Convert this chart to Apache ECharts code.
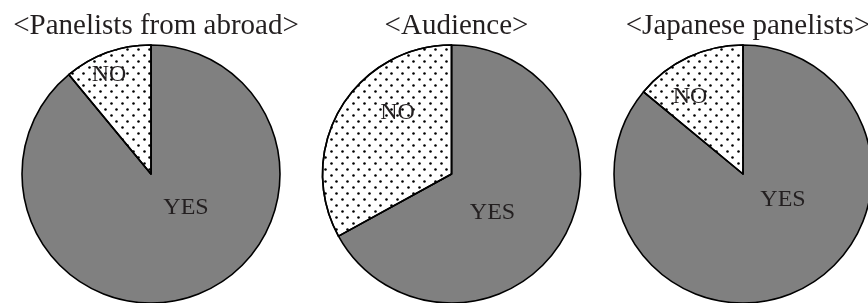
<!DOCTYPE html>
<html>
<head>
<meta charset="utf-8">
<title>Pie charts</title>
<script src="https://cdn.jsdelivr.net/npm/echarts@6/dist/echarts.min.js"></script>
<style>
  html, body { margin: 0; padding: 0; background: #fff; }
  #chart { width: 868px; height: 303px; }
</style>
</head>
<body>
<div id="chart"></div>
<script>
// data
var categories = ['YES', 'NO']
var titles = ['<Panelists from abroad>', '<Audience>', '<Japanese panelists>']
var panelistsAbroad = [89, 11]
var audience = [67, 33]
var japanesePanelists = [86, 14]
var groups = [panelistsAbroad, audience, japanesePanelists]

// layout (pixels)
var centers = [[151, 174], [451.5, 174], [743, 174]]
var radius = 129
// label offset from pie centre, [YES, NO]
var labelOffsets = [
  [[35, 34], [-42, -99]],
  [[41, 39], [-54, -61]],
  [[40, 26], [-53, -77]]
]

var textColor = '#231f20'
var font = '"Liberation Serif", "DejaVu Serif", serif'

var chart = echarts.init(document.getElementById('chart'))

var dots = {
  symbol: 'circle',
  symbolSize: 0.85,
  color: '#000',
  dashArrayX: [[3, 8], [0, 5, 3, 3]],
  dashArrayY: [3, 3]
}

function makeSeries(values, i) {
  return {
    type: 'pie',
    center: centers[i],
    radius: radius,
    startAngle: 90,
    clockwise: true,
    silent: true,
    itemStyle: {
      borderColor: '#000',
      borderWidth: 1.6
    },
    label: {
      show: true,
      position: 'inside',
      color: textColor,
      fontFamily: font,
      fontSize: 24
    },
    labelLine: { show: false },
    labelLayout: function (p) {
      var off = labelOffsets[i][p.dataIndex]
      var r = p.labelRect
      return {
        dx: centers[i][0] + off[0] - (r.x + r.width / 2),
        dy: centers[i][1] + off[1] - (r.y + r.height / 2)
      }
    },
    data: categories.map(function (name, k) {
      var item = { name: name, value: values[k] }
      if (name === 'YES') {
        item.itemStyle = { color: '#808080' }
      } else {
        item.itemStyle = { color: '#fff', decal: dots }
      }
      return item
    })
  }
}

chart.setOption({
  animation: false,
  backgroundColor: '#fff',
  title: titles.map(function (t, i) {
    return {
      text: t,
      left: centers[i][0],
      top: 7,
      textAlign: 'center',
      textStyle: {
        color: textColor,
        fontFamily: font,
        fontWeight: 'normal',
        fontSize: 29
      }
    }
  }),
  series: groups.map(makeSeries)
})
</script>
</body>
</html>
